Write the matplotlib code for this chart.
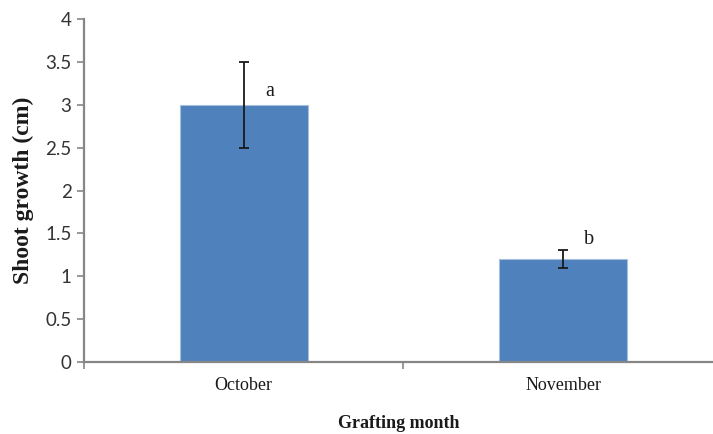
import matplotlib
matplotlib.use("Agg")
import matplotlib.pyplot as plt
from matplotlib.ticker import FixedLocator, NullFormatter

months = ["October", "November"]
growth = [3.0, 1.2]
errors = [0.5, 0.105]
letters = ["a", "b"]
letter_y = [3.16, 1.43]

fig = plt.figure(figsize=(7.13, 4.34), dpi=100)
ax = fig.add_axes([84 / 713, 72 / 434, 629 / 713, 343 / 434])

x = [0, 1]
ax.bar(x, growth, width=0.4, color="#4F81BD", edgecolor="#A7BFDE", linewidth=0.8, zorder=2)
ax.errorbar(x, growth, yerr=errors, fmt="none", ecolor="#1a1a1a", elinewidth=1.3,
            capsize=3.3, capthick=1.3, zorder=3)
for xi, lab, ly in zip(x, letters, letter_y):
    ax.text(xi + 0.08, ly, lab, fontsize=14.5, family="Liberation Serif",
            ha="center", va="center", color="#1a1a1a")

ax.set_xlim(-0.5, 1.5 - 10 / 320)
ax.set_ylim(0, 4)
ax.set_yticks([0, 0.5, 1, 1.5, 2, 2.5, 3, 3.5, 4])
ax.set_yticklabels(["0", "0.5", "1", "1.5", "2", "2.5", "3", "3.5", "4"],
                   family="Lato", fontsize=13.5, color="#333333")
ax.set_xticks(x)
ax.set_xticklabels(months, family="Liberation Serif", fontsize=13, color="#1a1a1a")
ax.tick_params(axis="x", which="major", length=0, pad=11)
ax.xaxis.set_minor_locator(FixedLocator([-0.5, 0.5, 1.5]))
ax.xaxis.set_minor_formatter(NullFormatter())
ax.tick_params(axis="x", which="minor", length=5, width=1.2, color="#868686")
ax.tick_params(axis="y", length=5, width=1.2, color="#868686", pad=4)

for side in ["top", "right"]:
    ax.spines[side].set_visible(False)
for side in ["left", "bottom"]:
    ax.spines[side].set_color("#868686")
    ax.spines[side].set_linewidth(1.6)

ax.set_xlabel("Grafting month", family="Liberation Serif", fontweight="bold",
              fontsize=13, color="#1a1a1a", labelpad=15)
ax.set_ylabel("Shoot growth (cm)", family="Liberation Serif", fontweight="bold",
              fontsize=17, color="#1a1a1a", labelpad=8)

fig.savefig("out.png", dpi=100)
